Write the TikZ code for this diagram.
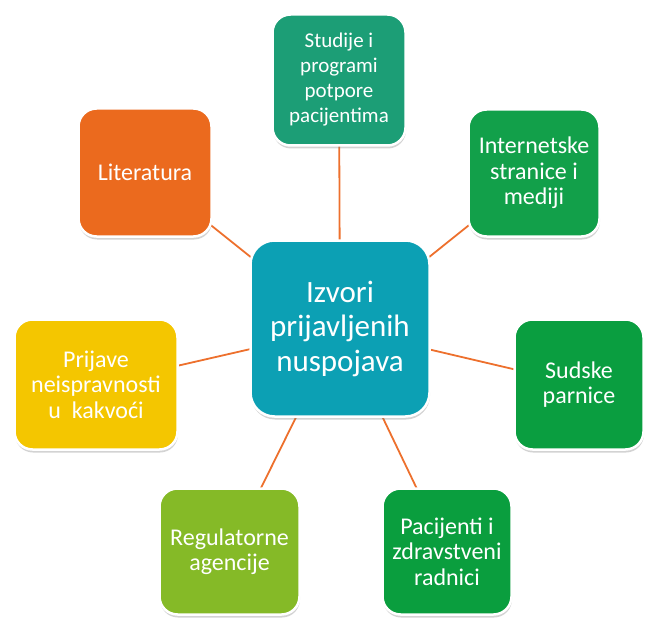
\documentclass[tikz,border=0pt]{standalone}
\usepackage{fontspec}
\setmainfont{Carlito}
\usetikzlibrary{shadows}
\definecolor{linkc}{RGB}{237,112,45}
\definecolor{centc}{RGB}{12,160,180}
\definecolor{studc}{RGB}{28,158,118}
\definecolor{inetc}{RGB}{18,160,74}
\definecolor{sudc}{RGB}{10,158,64}
\definecolor{pacc}{RGB}{10,158,62}
\definecolor{regc}{RGB}{133,186,39}
\definecolor{prijc}{RGB}{244,198,0}
\definecolor{litc}{RGB}{235,106,30}
\pgfdeclarelayer{bg}
\pgfsetlayers{bg,main}
\begin{document}
\begin{tikzpicture}[x=1pt,y=-1pt,
  box/.style={rounded corners=18pt, draw=white, line width=2.5pt, text=white,
    align=center, inner sep=2pt, font=\fontsize{24}{25.5}\selectfont,
    drop shadow={opacity=0.35, shadow xshift=0.5pt, shadow yshift=-3pt}},
  link/.style={draw=linkc, line width=1.8pt}]
\useasboundingbox (0,0) rectangle (647,620);
\node[box, fill=centc, rounded corners=24pt, minimum width=179pt, minimum height=176pt,
  font=\fontsize{31}{34.5}\selectfont] (c) at (340,328.5) {Izvori\\prijavljenih\\nuspojava};
\node[box, fill=studc, minimum width=133pt, minimum height=131pt,
  font=\fontsize{21}{25}\selectfont] (s) at (339,80) {Studije i\\programi\\potpore\\pacijentima};
\node[box, fill=inetc, minimum width=131pt, minimum height=127pt] (i) at (534,173) {Internetske\\stranice i\\mediji};
\node[box, fill=sudc, minimum width=129pt, minimum height=130pt] (su) at (579,384.5) {Sudske\\parnice};
\node[box, fill=pacc, minimum width=129pt, minimum height=126pt] (p) at (447,551.5) {Pacijenti i\\zdravstveni\\radnici};
\node[box, fill=regc, minimum width=140pt, minimum height=126pt] (r) at (229.5,551.5) {Regulatorne\\agencije};
\node[box, fill=prijc, minimum width=163pt, minimum height=130pt] (pr) at (96,384.5) {Prijave\\neispravnosti\\u~ kakvoći};
\node[box, fill=litc, minimum width=133pt, minimum height=128pt] (l) at (145,172.5) {Literatura};
\begin{pgfonlayer}{bg}
\foreach \n in {s,i,su,p,r,pr,l}
  \draw[link] (c.center) -- (\n.center);
\end{pgfonlayer}
\end{tikzpicture}
\end{document}
